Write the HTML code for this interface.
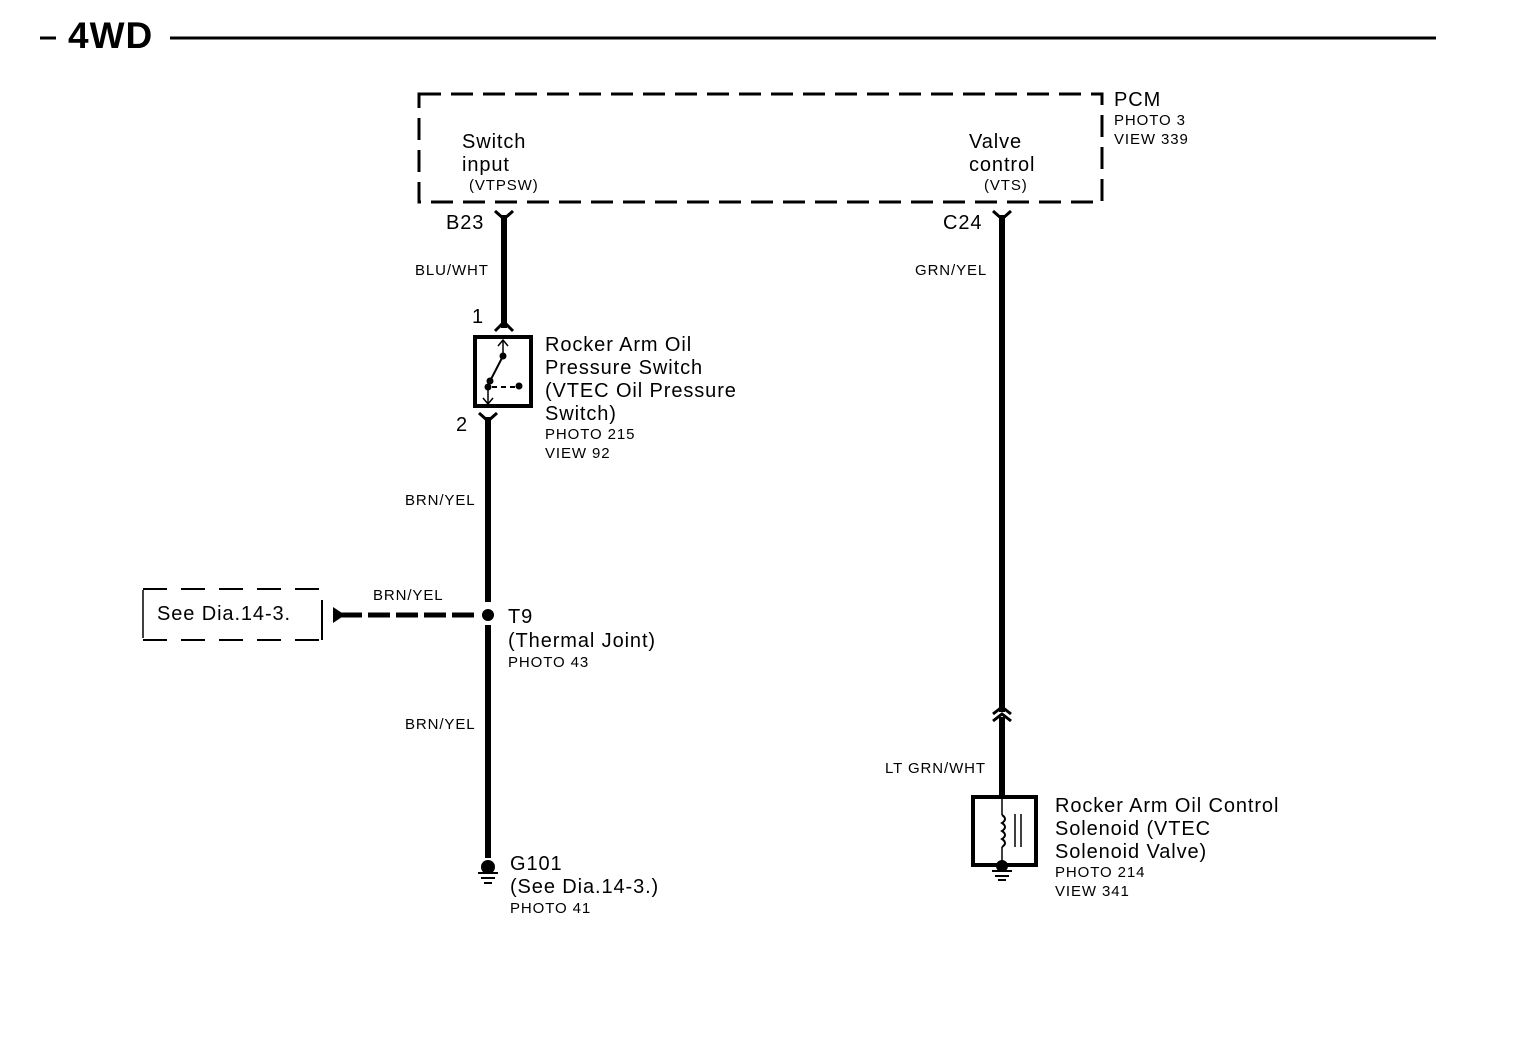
<!DOCTYPE html>
<html><head><style>
html,body{margin:0;padding:0;background:#fff;}
svg{display:block;}
text{font-family:"Liberation Sans",sans-serif;fill:#000;}
.l{font-size:20px;letter-spacing:0.9px;}
.s{font-size:15px;letter-spacing:0.9px;}
.w{font-size:15px;letter-spacing:0.9px;}
</style></head><body>
<svg width="1520" height="1048" viewBox="0 0 1520 1048" xmlns="http://www.w3.org/2000/svg">
<!-- header -->
<line x1="40" y1="38" x2="56" y2="38" stroke="#000" stroke-width="3"/>
<text x="68" y="48" style="font-size:37px;font-weight:bold;letter-spacing:1px">4WD</text>
<line x1="170" y1="38" x2="1436" y2="38" stroke="#000" stroke-width="3"/>

<!-- PCM box -->
<rect x="419" y="94" width="683" height="108" fill="none" stroke="#000" stroke-width="3" stroke-dasharray="22,10"/>
<text class="l" x="1114" y="106">PCM</text>
<text class="s" x="1114" y="125">PHOTO 3</text>
<text class="s" x="1114" y="144">VIEW 339</text>
<text class="l" x="462" y="148">Switch</text>
<text class="l" x="462" y="171">input</text>
<text class="s" x="469" y="190">(VTPSW)</text>
<text class="l" x="969" y="148">Valve</text>
<text class="l" x="969" y="171">control</text>
<text class="s" x="984" y="190">(VTS)</text>

<!-- left wire top -->
<text class="l" x="446" y="229">B23</text>
<path d="M495 211 L504 219 L513 211" fill="none" stroke="#000" stroke-width="3"/>
<line x1="504" y1="215" x2="504" y2="328" stroke="#000" stroke-width="6"/>
<path d="M495 331 L504 322 L513 331" fill="none" stroke="#000" stroke-width="3"/>
<text class="w" x="415" y="275">BLU/WHT</text>
<text class="l" x="472" y="323">1</text>

<!-- switch -->
<rect x="475" y="337" width="56" height="69" fill="none" stroke="#000" stroke-width="4"/>
<line x1="503" y1="341" x2="503" y2="356" stroke="#000" stroke-width="1.5"/>
<path d="M498 346 L503 340 L508 346" fill="none" stroke="#000" stroke-width="1.5"/>
<circle cx="503" cy="356" r="3.5"/>
<line x1="503" y1="356" x2="488" y2="385" stroke="#000" stroke-width="2"/>
<circle cx="490" cy="381" r="3.5"/>
<circle cx="488" cy="387" r="3.5"/>
<line x1="492" y1="387" x2="515" y2="387" stroke="#000" stroke-width="2" stroke-dasharray="5,4"/>
<circle cx="519" cy="386" r="3.5"/>
<line x1="488" y1="387" x2="488" y2="403" stroke="#000" stroke-width="1.5"/>
<path d="M483 398 L488 404 L493 398" fill="none" stroke="#000" stroke-width="1.5"/>
<text class="l" x="545" y="351">Rocker Arm Oil</text>
<text class="l" x="545" y="374">Pressure Switch</text>
<text class="l" x="545" y="397">(VTEC Oil Pressure</text>
<text class="l" x="545" y="420">Switch)</text>
<text class="s" x="545" y="439">PHOTO 215</text>
<text class="s" x="545" y="458">VIEW 92</text>
<text class="l" x="456" y="431">2</text>

<!-- lower left wire -->
<path d="M479 413 L488 421 L497 413" fill="none" stroke="#000" stroke-width="3"/>
<line x1="488" y1="417" x2="488" y2="602" stroke="#000" stroke-width="6"/>
<line x1="488" y1="625" x2="488" y2="858" stroke="#000" stroke-width="6"/>
<circle cx="488" cy="615" r="6"/>
<text class="w" x="405" y="505">BRN/YEL</text>
<text class="w" x="405" y="729">BRN/YEL</text>
<text class="l" x="508" y="623">T9</text>
<text class="l" x="508" y="647">(Thermal Joint)</text>
<text class="s" x="508" y="667">PHOTO 43</text>

<!-- See dia box -->
<path d="M143 590 L143 638" stroke="#000" stroke-width="1.5"/>
<line x1="143" y1="589" x2="323" y2="589" stroke="#000" stroke-width="2" stroke-dasharray="24,14"/>
<line x1="143" y1="640" x2="323" y2="640" stroke="#000" stroke-width="2" stroke-dasharray="24,14"/>
<line x1="322" y1="600" x2="322" y2="640" stroke="#000" stroke-width="2"/>
<text class="l" x="157" y="620">See Dia.14-3.</text>
<path d="M333 607 L345 615 L333 623 Z"/>
<line x1="340" y1="615" x2="480" y2="615" stroke="#000" stroke-width="5" stroke-dasharray="22,6"/>
<text class="w" x="373" y="600">BRN/YEL</text>

<!-- ground G101 -->
<circle cx="488" cy="867" r="7"/>
<line x1="478" y1="873" x2="498" y2="873" stroke="#000" stroke-width="2"/>
<line x1="481" y1="878" x2="495" y2="878" stroke="#000" stroke-width="2"/>
<line x1="484" y1="883" x2="492" y2="883" stroke="#000" stroke-width="2"/>
<text class="l" x="510" y="870">G101</text>
<text class="l" x="510" y="893">(See Dia.14-3.)</text>
<text class="s" x="510" y="913">PHOTO 41</text>

<!-- right wire -->
<text class="l" x="943" y="229">C24</text>
<path d="M993 211 L1002 219 L1011 211" fill="none" stroke="#000" stroke-width="3"/>
<line x1="1002" y1="215" x2="1002" y2="712" stroke="#000" stroke-width="6"/>
<path d="M993 714 L1002 707 L1011 714" fill="none" stroke="#000" stroke-width="3"/>
<path d="M993 721 L1002 714 L1011 721" fill="none" stroke="#000" stroke-width="3"/>
<line x1="1002" y1="717" x2="1002" y2="797" stroke="#000" stroke-width="6"/>
<text class="w" x="915" y="275">GRN/YEL</text>
<text class="w" x="885" y="773">LT GRN/WHT</text>

<!-- solenoid -->
<rect x="973" y="797" width="63" height="68" fill="none" stroke="#000" stroke-width="4"/>
<line x1="1002" y1="799" x2="1002" y2="815" stroke="#000" stroke-width="1.5"/>
<path d="M1002 815 q6 4 0 8 q6 4 0 8 q6 4 0 8 q6 4 0 8" fill="none" stroke="#000" stroke-width="2"/>
<line x1="1002" y1="847" x2="1002" y2="862" stroke="#000" stroke-width="1.5"/>
<line x1="1015" y1="814" x2="1015" y2="847" stroke="#000" stroke-width="1.5"/>
<line x1="1021" y1="814" x2="1021" y2="847" stroke="#000" stroke-width="1.5"/>
<circle cx="1002" cy="866" r="6"/>
<line x1="992" y1="871" x2="1012" y2="871" stroke="#000" stroke-width="2"/>
<line x1="995" y1="876" x2="1009" y2="876" stroke="#000" stroke-width="2"/>
<line x1="998" y1="880" x2="1006" y2="880" stroke="#000" stroke-width="2"/>
<text class="l" x="1055" y="812">Rocker Arm Oil Control</text>
<text class="l" x="1055" y="835">Solenoid (VTEC</text>
<text class="l" x="1055" y="858">Solenoid Valve)</text>
<text class="s" x="1055" y="877">PHOTO 214</text>
<text class="s" x="1055" y="896">VIEW 341</text>
</svg>
</body></html>
